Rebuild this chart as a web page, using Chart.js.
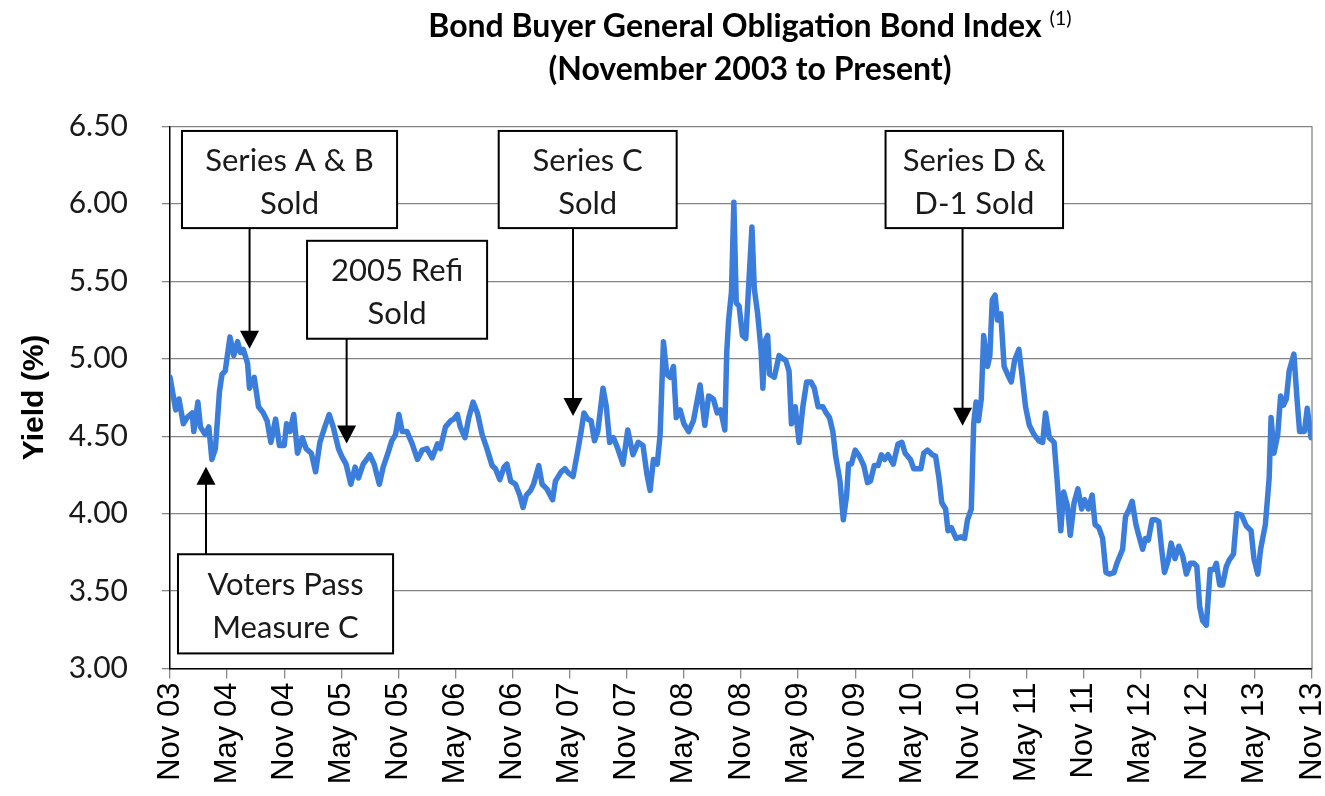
<!DOCTYPE html>
<html>
<head>
<meta charset="utf-8">
<script src="https://cdn.jsdelivr.net/npm/chart.js@4.4.0/dist/chart.umd.min.js"></script>
<style>
  body { margin: 0; background: #fff; }
  #wrap { position: relative; width: 1325px; height: 796px; }
  #title { position: absolute; top: 3px; left: 750px; transform: translateX(-50%); white-space: nowrap;
           text-align: center; font-family: Lato, sans-serif; font-weight: bold; font-size: 32px;
           line-height: 43px; color: #000; }
  #title sup { font-weight: normal; font-size: 20px; line-height: 0; vertical-align: 0; position: relative; top: -12px; }
</style>
</head>
<body>
<div id="wrap">
  <canvas id="myChart" width="1325" height="796"></canvas>
  <div id="title">Bond Buyer General Obligation Bond Index <sup>(1)</sup><br>(November 2003 to Present)</div>
</div>
<script>
// months since Nov 2003
var months = [
  0, 0.6, 0.94, 1.4, 1.8, 2.33, 2.5, 2.93, 3.2, 3.7, 4.08, 4.4, 4.77, 5.2, 5.47, 5.8, 6.3, 6.7, 7.1, 7.4,
  7.7, 8.15, 8.35, 8.85, 9.3, 9.8, 10.2, 10.6, 11.1, 11.5, 12.0, 12.25, 12.6, 13.0, 13.4, 13.9, 14.3, 14.85, 15.3, 15.75,
  16.27, 16.73, 17.15, 17.7, 18.05, 18.5, 19.0, 19.45, 19.8, 20.3, 21.0, 21.45, 22.0, 22.4, 22.9, 23.3, 23.7, 24.05, 24.4, 24.9,
  25.45, 26.0, 26.5, 27.0, 27.55, 28.1, 28.4, 28.95, 29.5, 29.8, 30.2, 30.5, 31.0, 31.4, 31.85, 32.3, 32.8, 33.3, 33.85, 34.2,
  34.65, 35.1, 35.4, 35.8, 36.3, 36.75, 37.1, 37.45, 37.9, 38.2, 38.75, 39.1, 39.6, 40.2, 40.5, 41.1, 41.5, 41.9, 42.35, 42.8,
  43.2, 43.5, 43.9, 44.25, 44.6, 44.95, 45.5, 45.85, 46.2, 46.6, 47.05, 47.6, 48.1, 48.65, 49.2, 49.7, 50.1, 50.45, 50.8, 51.2,
  51.5, 51.85, 52.2, 52.55, 52.9, 53.2, 53.6, 54.0, 54.5, 55.0, 55.7, 56.2, 56.6, 57.1, 57.5, 57.85, 58.3, 58.5, 58.7, 59.0,
  59.25, 59.5, 59.8, 60.15, 60.5, 60.85, 61.15, 61.4, 61.75, 62.1, 62.3, 62.5, 62.8, 63.0, 63.5, 64.0, 64.4, 64.7, 65.05, 65.3,
  65.7, 66.1, 66.5, 66.9, 67.35, 67.7, 68.1, 68.6, 68.95, 69.3, 69.65, 69.95, 70.4, 70.75, 71.1, 71.3, 71.6, 72.0, 72.45, 72.9,
  73.3, 73.6, 74.0, 74.4, 74.75, 75.1, 75.45, 76.0, 76.5, 76.9, 77.25, 77.8, 78.15, 78.5, 78.9, 79.2, 79.6, 80.1, 80.45, 80.8,
  81.1, 81.5, 81.75, 82.1, 82.6, 83.1, 83.5, 83.8, 84.2, 84.45, 84.7, 84.95, 85.25, 85.5, 85.9, 86.15, 86.4, 86.7, 86.95, 87.3,
  87.65, 88.0, 88.4, 88.75, 89.2, 89.55, 89.9, 90.3, 90.8, 91.3, 91.7, 92.0, 92.4, 92.9, 93.2, 93.6, 93.9, 94.3, 94.6, 95.0,
  95.4, 95.8, 96.1, 96.5, 96.9, 97.2, 97.6, 98.0, 98.35, 98.7, 99.2, 99.5, 100.1, 100.4, 100.8, 101.1, 101.5, 101.8, 102.2, 102.5,
  102.8, 103.2, 103.6, 103.9, 104.2, 104.5, 104.9, 105.2, 105.6, 106.0, 106.4, 106.8, 107.2, 107.6, 107.9, 108.2, 108.5, 108.9, 109.3, 109.7,
  109.95, 110.3, 110.6, 111.0, 111.3, 111.75, 112.1, 112.6, 113.1, 113.6, 113.9, 114.3, 114.6, 115.1, 115.5, 115.7, 116.0, 116.4, 116.7, 117.0,
  117.3, 117.6, 118.1, 118.45, 118.7, 119.2, 119.5, 119.9, 120
];
var yields = [
  4.88, 4.67, 4.74, 4.58, 4.62, 4.65, 4.53, 4.72, 4.56, 4.51, 4.56, 4.35, 4.42, 4.79, 4.90, 4.92, 5.14, 5.02, 5.11, 5.04,
  5.06, 4.97, 4.81, 4.88, 4.69, 4.65, 4.60, 4.46, 4.61, 4.44, 4.44, 4.58, 4.53, 4.64, 4.39, 4.49, 4.42, 4.39, 4.27, 4.46,
  4.56, 4.64, 4.56, 4.42, 4.37, 4.32, 4.19, 4.30, 4.23, 4.32, 4.38, 4.32, 4.19, 4.30, 4.39, 4.47, 4.51, 4.64, 4.53, 4.53,
  4.45, 4.35, 4.41, 4.42, 4.36, 4.45, 4.42, 4.56, 4.60, 4.61, 4.64, 4.56, 4.49, 4.62, 4.72, 4.65, 4.51, 4.42, 4.31, 4.29,
  4.22, 4.30, 4.32, 4.21, 4.19, 4.12, 4.04, 4.12, 4.15, 4.19, 4.31, 4.19, 4.16, 4.09, 4.21, 4.27, 4.29, 4.26, 4.24, 4.39,
  4.53, 4.65, 4.61, 4.60, 4.47, 4.53, 4.81, 4.69, 4.46, 4.49, 4.42, 4.32, 4.54, 4.38, 4.46, 4.44, 4.26, 4.15, 4.35, 4.32,
  4.51, 5.11, 4.90, 4.88, 4.95, 4.62, 4.67, 4.58, 4.53, 4.60, 4.83, 4.57, 4.76, 4.74, 4.65, 4.67, 4.54, 5.04, 5.25, 5.43,
  6.01, 5.36, 5.34, 5.15, 5.13, 5.52, 5.85, 5.45, 5.29, 5.06, 4.81, 5.11, 5.15, 4.90, 4.88, 5.02, 5.00, 4.99, 4.92, 4.58,
  4.69, 4.46, 4.69, 4.85, 4.85, 4.81, 4.69, 4.69, 4.65, 4.62, 4.53, 4.37, 4.21, 3.96, 4.12, 4.32, 4.32, 4.41, 4.37, 4.31,
  4.20, 4.21, 4.31, 4.31, 4.38, 4.35, 4.38, 4.32, 4.45, 4.46, 4.39, 4.35, 4.29, 4.29, 4.29, 4.39, 4.41, 4.38, 4.37, 4.23,
  4.07, 4.03, 3.89, 3.91, 3.84, 3.85, 3.84, 3.96, 4.03, 4.58, 4.72, 4.60, 4.74, 5.15, 4.95, 5.02, 5.38, 5.41, 5.25, 5.29,
  4.95, 4.90, 4.85, 4.99, 5.06, 4.88, 4.69, 4.57, 4.51, 4.47, 4.46, 4.65, 4.49, 4.46, 4.23, 3.89, 4.14, 4.05, 3.86, 4.07,
  4.16, 4.03, 4.09, 4.03, 4.12, 3.93, 3.91, 3.84, 3.62, 3.61, 3.62, 3.68, 3.77, 3.98, 4.03, 4.08, 3.93, 3.86, 3.77, 3.84,
  3.83, 3.96, 3.96, 3.95, 3.77, 3.62, 3.70, 3.81, 3.71, 3.79, 3.73, 3.61, 3.68, 3.68, 3.66, 3.40, 3.31, 3.28, 3.64, 3.64,
  3.68, 3.54, 3.54, 3.66, 3.70, 3.74, 4.00, 3.99, 3.92, 3.89, 3.71, 3.61, 3.77, 3.93, 4.23, 4.62, 4.39, 4.51, 4.76, 4.70,
  4.74, 4.92, 5.03, 4.72, 4.53, 4.53, 4.68, 4.49, 4.57
];
var tickLabels = ["Nov 03", "May 04", "Nov 04", "May 05", "Nov 05", "May 06", "Nov 06", "May 07", "Nov 07", "May 08",
  "Nov 08", "May 09", "Nov 09", "May 10", "Nov 10", "May 11", "Nov 11", "May 12", "Nov 12", "May 13", "Nov 13"];

// callout boxes: box = [left month, right month, top yield, bottom yield]
var notes = [
  { lines: ["Series A & B", "Sold"], box: [1.26, 23.86, 6.47, 5.843], arrowX: 8.36, tipY: 5.064 },
  { lines: ["2005 Refi", "Sold"], box: [14.4, 33.32, 5.761, 5.129], arrowX: 18.56, tipY: 4.453 },
  { lines: ["Series C", "Sold"], box: [34.54, 53.24, 6.47, 5.843], arrowX: 42.35, tipY: 4.63 },
  { lines: ["Series D &", "D-1 Sold"], box: [75.19, 93.84, 6.47, 5.843], arrowX: 83.28, tipY: 4.568 },
  { lines: ["Voters Pass", "Measure C"], box: [0.84, 23.44, 3.738, 3.098], arrowX: 3.78, tipY: 4.303 }
];

var points = months.map(function(m, i) { return { x: m, y: yields[i] }; });

var callouts = {
  id: "callouts",
  afterDatasetsDraw: function(chart) {
    var ctx = chart.ctx, area = chart.chartArea, xs = chart.scales.x, ys = chart.scales.y;
    ctx.save();
    ctx.strokeStyle = "#858585";
    ctx.lineWidth = 1.3;
    ctx.beginPath();
    ctx.moveTo(area.right, area.top);
    ctx.lineTo(area.right, area.bottom);
    ctx.stroke();
    notes.forEach(function(n) {
      var left = xs.getPixelForValue(n.box[0]), right = xs.getPixelForValue(n.box[1]);
      var top = ys.getPixelForValue(n.box[2]), bottom = ys.getPixelForValue(n.box[3]);
      var ax = xs.getPixelForValue(n.arrowX), tip = ys.getPixelForValue(n.tipY);
      var start = tip > bottom ? bottom : top;
      var dir = tip > start ? 1 : -1;
      ctx.strokeStyle = "#000";
      ctx.fillStyle = "#000";
      ctx.lineWidth = 2;
      ctx.beginPath();
      ctx.moveTo(ax, start);
      ctx.lineTo(ax, tip - dir * 16);
      ctx.stroke();
      ctx.beginPath();
      ctx.moveTo(ax, tip);
      ctx.lineTo(ax - 9.5, tip - dir * 18);
      ctx.lineTo(ax + 9.5, tip - dir * 18);
      ctx.closePath();
      ctx.fill();
      ctx.fillStyle = "#fff";
      ctx.fillRect(left, top, right - left, bottom - top);
      ctx.strokeRect(left, top, right - left, bottom - top);
      ctx.fillStyle = "#1a1a1a";
      ctx.font = "31px Lato";
      ctx.textAlign = "center";
      ctx.textBaseline = "middle";
      var cx = (left + right) / 2, cy = (top + bottom) / 2 + 3;
      ctx.fillText(n.lines[0], cx, cy - 21.5);
      ctx.fillText(n.lines[1], cx, cy + 21.5);
    });
    ctx.restore();
  }
};

new Chart("myChart", {
  type: "line",
  data: {
    datasets: [{
      data: points,
      borderColor: "#3b7ddb",
      borderWidth: 5.5,
      pointRadius: 0,
      tension: 0,
      borderJoinStyle: "round",
      borderCapStyle: "round"
    }]
  },
  options: {
    responsive: false,
    animation: false,
    layout: { padding: { top: 126.3, right: 13, bottom: 0, left: 0 } },
    plugins: { legend: { display: false }, tooltip: { enabled: false } },
    scales: {
      x: {
        type: "linear",
        min: 0,
        max: 120,
        afterFit: function(s) { s.height = 127.4; s.paddingLeft = 0; s.paddingRight = 0; },
        border: { color: "#000", width: 1.5 },
        grid: { drawOnChartArea: false, tickLength: 10, color: "#8a8a8a", lineWidth: 1.3 },
        ticks: {
          stepSize: 6,
          autoSkip: false,
          minRotation: 90,
          maxRotation: 90,
          padding: 4,
          color: "#000",
          font: { family: "Liberation Sans", size: 31 },
          callback: function(v) { return tickLabels[Math.round(v / 6)]; }
        }
      },
      y: {
        min: 3,
        max: 6.5,
        afterFit: function(s) { s.width = 170; s.paddingTop = 0; s.paddingBottom = 0; },
        border: { color: "#000", width: 1.5 },
        grid: { tickLength: 8, color: "#858585", lineWidth: 1.3 },
        ticks: {
          stepSize: 0.5,
          padding: 34,
          color: "#1a1a1a",
          font: { family: "Lato", size: 30 },
          callback: function(v) { return v.toFixed(2); }
        },
        title: {
          display: true,
          text: "Yield (%)",
          color: "#000",
          padding: { top: 17, bottom: 0 },
          font: { family: "Liberation Sans", size: 30, weight: "bold" }
        }
      }
    }
  },
  plugins: [callouts]
});
</script>
</body>
</html>
